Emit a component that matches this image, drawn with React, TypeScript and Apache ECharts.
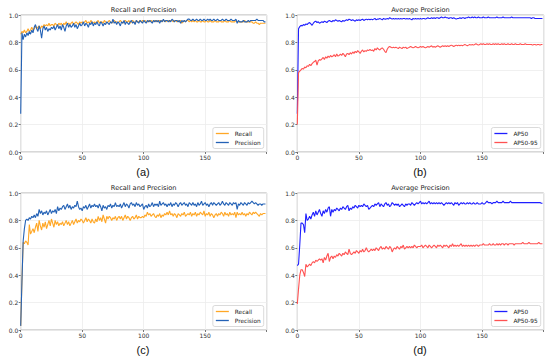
import React, { useEffect, useRef } from "react";
import * as echarts from "echarts";

const xTicks = [0, 50, 100, 150];
const yTicks = [0.0, 0.2, 0.4, 0.6, 0.8, 1.0];

const recallA = [
  0.86, 0.88, 0.87, 0.89, 0.87, 0.88, 0.90, 0.88, 0.89, 0.91, 0.89, 0.90, 0.92, 0.90, 0.91, 0.92, 0.90, 0.92, 0.91, 0.93,
  0.92, 0.93, 0.92, 0.94, 0.92, 0.93, 0.93, 0.92, 0.94, 0.93, 0.92, 0.94, 0.93, 0.94, 0.92, 0.94, 0.93, 0.95, 0.93, 0.94,
  0.93, 0.94, 0.95, 0.93, 0.94, 0.95, 0.94, 0.93, 0.95, 0.94, 0.95, 0.94, 0.95, 0.96, 0.94, 0.95, 0.94, 0.96, 0.95, 0.94,
  0.95, 0.94, 0.95, 0.96, 0.94, 0.95, 0.95, 0.94, 0.96, 0.95, 0.94, 0.95, 0.96, 0.95, 0.94, 0.95, 0.96, 0.95, 0.95, 0.94,
  0.95, 0.96, 0.95, 0.94, 0.95, 0.96, 0.95, 0.95, 0.96, 0.94, 0.95, 0.96, 0.95, 0.94, 0.96, 0.95, 0.95, 0.96, 0.95, 0.96,
  0.95, 0.96, 0.95, 0.95, 0.96, 0.95, 0.96, 0.95, 0.96, 0.96, 0.95, 0.96, 0.95, 0.96, 0.96, 0.95, 0.96, 0.96, 0.95, 0.96,
  0.96, 0.95, 0.96, 0.96, 0.95, 0.96, 0.96, 0.95, 0.96, 0.95, 0.96, 0.94, 0.95, 0.96, 0.95, 0.96, 0.96, 0.95, 0.96, 0.95,
  0.96, 0.95, 0.96, 0.95, 0.95, 0.96, 0.95, 0.95, 0.96, 0.95, 0.95, 0.96, 0.95, 0.95, 0.96, 0.95, 0.95, 0.95, 0.96, 0.95,
  0.95, 0.95, 0.96, 0.95, 0.95, 0.95, 0.96, 0.95, 0.95, 0.95, 0.96, 0.95, 0.95, 0.95, 0.95, 0.96, 0.95, 0.95, 0.95, 0.95,
  0.95, 0.95, 0.96, 0.95, 0.95, 0.95, 0.95, 0.95, 0.95, 0.94, 0.94, 0.95, 0.94, 0.94, 0.93, 0.94, 0.94, 0.94, 0.94, 0.94,
];
const precisionA = [
  0.28, 0.87, 0.82, 0.86, 0.84, 0.87, 0.85, 0.88, 0.86, 0.89, 0.87, 0.91, 0.93, 0.90, 0.88, 0.92, 0.89, 0.83, 0.90, 0.92,
  0.89, 0.91, 0.88, 0.90, 0.89, 0.91, 0.90, 0.92, 0.89, 0.91, 0.93, 0.90, 0.92, 0.89, 0.93, 0.91, 0.88, 0.92, 0.94, 0.91,
  0.93, 0.91, 0.92, 0.94, 0.91, 0.93, 0.90, 0.92, 0.94, 0.92, 0.93, 0.95, 0.92, 0.94, 0.93, 0.91, 0.94, 0.93, 0.95, 0.92,
  0.94, 0.93, 0.95, 0.93, 0.92, 0.95, 0.94, 0.92, 0.94, 0.93, 0.95, 0.94, 0.93, 0.95, 0.94, 0.97, 0.94, 0.95, 0.93, 0.95,
  0.94, 0.92, 0.95, 0.94, 0.96, 0.93, 0.95, 0.94, 0.93, 0.95, 0.96, 0.94, 0.95, 0.93, 0.96, 0.95, 0.94, 0.96, 0.95, 0.94,
  0.96, 0.95, 0.94, 0.96, 0.95, 0.96, 0.95, 0.94, 0.96, 0.95, 0.96, 0.95, 0.96, 0.94, 0.96, 0.95, 0.97, 0.95, 0.96, 0.96,
  0.95, 0.96, 0.95, 0.97, 0.96, 0.95, 0.96, 0.96, 0.95, 0.96, 0.94, 0.96, 0.95, 0.96, 0.95, 0.96, 0.97, 0.97, 0.96, 0.96,
  0.97, 0.96, 0.96, 0.97, 0.96, 0.96, 0.97, 0.96, 0.96, 0.97, 0.96, 0.96, 0.97, 0.96, 0.97, 0.96, 0.96, 0.97, 0.96, 0.96,
  0.97, 0.96, 0.96, 0.96, 0.97, 0.96, 0.96, 0.97, 0.96, 0.96, 0.96, 0.97, 0.96, 0.96, 0.96, 0.97, 0.94, 0.96, 0.95, 0.95,
  0.95, 0.96, 0.95, 0.95, 0.95, 0.96, 0.95, 0.96, 0.96, 0.96, 0.96, 0.96, 0.97, 0.96, 0.96, 0.96, 0.96, 0.96, 0.95, 0.95,
];
const ap50B = [
  0.28, 0.90, 0.915, 0.925, 0.92, 0.93, 0.925, 0.935, 0.93, 0.94, 0.945, 0.935, 0.925, 0.94, 0.95, 0.955, 0.945, 0.95, 0.94, 0.945,
  0.95, 0.945, 0.955, 0.95, 0.945, 0.955, 0.96, 0.955, 0.95, 0.96, 0.955, 0.965, 0.96, 0.955, 0.96, 0.955, 0.95, 0.96, 0.955, 0.96,
  0.965, 0.96, 0.97, 0.965, 0.96, 0.965, 0.96, 0.955, 0.965, 0.96, 0.965, 0.96, 0.965, 0.97, 0.96, 0.965, 0.97, 0.965, 0.97, 0.965,
  0.97, 0.965, 0.97, 0.975, 0.965, 0.97, 0.97, 0.975, 0.97, 0.965, 0.975, 0.97, 0.97, 0.975, 0.97, 0.98, 0.975, 0.97, 0.975, 0.97,
  0.975, 0.97, 0.975, 0.97, 0.975, 0.97, 0.975, 0.975, 0.97, 0.975, 0.97, 0.975, 0.97, 0.965, 0.975, 0.97, 0.975, 0.97, 0.975, 0.97,
  0.975, 0.97, 0.975, 0.975, 0.97, 0.975, 0.98, 0.975, 0.975, 0.98, 0.975, 0.98, 0.975, 0.98, 0.98, 0.975, 0.98, 0.985, 0.98, 0.98,
  0.985, 0.98, 0.98, 0.975, 0.98, 0.98, 0.975, 0.98, 0.975, 0.97, 0.975, 0.975, 0.98, 0.975, 0.98, 0.98, 0.975, 0.98, 0.98, 0.985,
  0.98, 0.98, 0.985, 0.98, 0.985, 0.98, 0.98, 0.985, 0.98, 0.98, 0.98, 0.985, 0.98, 0.98, 0.98, 0.985, 0.98, 0.98, 0.98, 0.98,
  0.98, 0.98, 0.985, 0.98, 0.98, 0.98, 0.98, 0.985, 0.98, 0.98, 0.98, 0.98, 0.98, 0.98, 0.985, 0.98, 0.98, 0.98, 0.98, 0.98,
  0.98, 0.98, 0.98, 0.98, 0.98, 0.98, 0.98, 0.98, 0.98, 0.98, 0.975, 0.98, 0.98, 0.975, 0.975, 0.975, 0.975, 0.975, 0.975, 0.975,
];
const ap5095B = [
  0.20, 0.58, 0.59, 0.60, 0.61, 0.605, 0.62, 0.615, 0.63, 0.625, 0.64, 0.63, 0.645, 0.655, 0.66, 0.67, 0.635, 0.665, 0.675, 0.67,
  0.68, 0.69, 0.675, 0.695, 0.685, 0.70, 0.69, 0.705, 0.695, 0.70, 0.71, 0.695, 0.715, 0.70, 0.705, 0.715, 0.705, 0.72, 0.71, 0.695,
  0.715, 0.72, 0.71, 0.725, 0.715, 0.73, 0.72, 0.735, 0.725, 0.74, 0.73, 0.72, 0.735, 0.745, 0.73, 0.74, 0.735, 0.745, 0.74, 0.75,
  0.74, 0.745, 0.735, 0.755, 0.745, 0.76, 0.75, 0.745, 0.755, 0.76, 0.75, 0.735, 0.725, 0.75, 0.765, 0.77, 0.765, 0.76, 0.765, 0.76,
  0.765, 0.76, 0.755, 0.765, 0.76, 0.755, 0.765, 0.76, 0.765, 0.755, 0.76, 0.765, 0.77, 0.765, 0.76, 0.765, 0.77, 0.765, 0.76, 0.765,
  0.77, 0.765, 0.77, 0.765, 0.76, 0.765, 0.77, 0.765, 0.77, 0.775, 0.765, 0.77, 0.765, 0.77, 0.775, 0.77, 0.765, 0.77, 0.775, 0.77,
  0.775, 0.77, 0.775, 0.77, 0.775, 0.78, 0.775, 0.77, 0.775, 0.78, 0.775, 0.78, 0.775, 0.78, 0.775, 0.78, 0.785, 0.78, 0.775, 0.78,
  0.785, 0.78, 0.785, 0.78, 0.785, 0.79, 0.785, 0.78, 0.785, 0.79, 0.785, 0.79, 0.785, 0.785, 0.79, 0.785, 0.79, 0.785, 0.785, 0.79,
  0.785, 0.79, 0.785, 0.79, 0.785, 0.785, 0.79, 0.785, 0.79, 0.785, 0.785, 0.79, 0.785, 0.785, 0.79, 0.785, 0.785, 0.79, 0.785, 0.785,
  0.785, 0.79, 0.785, 0.785, 0.785, 0.79, 0.785, 0.785, 0.785, 0.785, 0.785, 0.78, 0.785, 0.785, 0.78, 0.785, 0.785, 0.78, 0.785, 0.785,
];
const recallC = [
  0.03, 0.35, 0.64, 0.63, 0.65, 0.64, 0.62, 0.77, 0.70, 0.72, 0.74, 0.71, 0.75, 0.78, 0.72, 0.80, 0.76, 0.73, 0.78, 0.75,
  0.79, 0.74, 0.77, 0.80, 0.76, 0.81, 0.78, 0.75, 0.80, 0.77, 0.79, 0.76, 0.78, 0.77, 0.79, 0.76, 0.78, 0.80, 0.77, 0.79,
  0.76, 0.78, 0.80, 0.77, 0.79, 0.81, 0.78, 0.80, 0.79, 0.81, 0.80, 0.78, 0.80, 0.82, 0.79, 0.81, 0.80, 0.78, 0.81, 0.79,
  0.78, 0.81, 0.79, 0.83, 0.80, 0.82, 0.79, 0.84, 0.81, 0.78, 0.83, 0.81, 0.83, 0.82, 0.80, 0.82, 0.81, 0.83, 0.80, 0.82,
  0.83, 0.81, 0.83, 0.80, 0.82, 0.84, 0.81, 0.83, 0.82, 0.80, 0.82, 0.83, 0.81, 0.82, 0.84, 0.81, 0.83, 0.82, 0.82, 0.83,
  0.82, 0.84, 0.83, 0.86, 0.84, 0.85, 0.83, 0.84, 0.85, 0.83, 0.82, 0.84, 0.83, 0.85, 0.82, 0.84, 0.83, 0.85, 0.84, 0.86,
  0.84, 0.87, 0.84, 0.85, 0.83, 0.85, 0.84, 0.82, 0.85, 0.84, 0.83, 0.85, 0.84, 0.86, 0.83, 0.84, 0.85, 0.84, 0.86, 0.83,
  0.85, 0.84, 0.86, 0.83, 0.85, 0.84, 0.86, 0.85, 0.84, 0.87, 0.83, 0.85, 0.84, 0.86, 0.83, 0.85, 0.84, 0.82, 0.84, 0.85,
  0.83, 0.85, 0.84, 0.86, 0.85, 0.83, 0.86, 0.84, 0.85, 0.83, 0.86, 0.84, 0.85, 0.84, 0.86, 0.82, 0.86, 0.84, 0.85, 0.84,
  0.86, 0.84, 0.85, 0.83, 0.85, 0.84, 0.86, 0.85, 0.84, 0.86, 0.85, 0.86, 0.85, 0.84, 0.83, 0.85, 0.84, 0.85, 0.85, 0.85,
];
const precisionC = [
  0.03, 0.35, 0.65, 0.74, 0.80, 0.81, 0.80, 0.82, 0.81, 0.83, 0.82, 0.84, 0.82, 0.85, 0.83, 0.88, 0.85, 0.87, 0.84, 0.86,
  0.85, 0.87, 0.84, 0.86, 0.88, 0.85, 0.87, 0.86, 0.88, 0.85, 0.90, 0.87, 0.89, 0.88, 0.90, 0.91, 0.88, 0.90, 0.92, 0.89,
  0.91, 0.88, 0.90, 0.89, 0.91, 0.90, 0.94, 0.90, 0.88, 0.89, 0.87, 0.90, 0.89, 0.91, 0.88, 0.90, 0.92, 0.89, 0.91, 0.90,
  0.92, 0.90, 0.91, 0.89, 0.92, 0.90, 0.87, 0.91, 0.89, 0.90, 0.88, 0.91, 0.90, 0.92, 0.89, 0.91, 0.90, 0.93, 0.90, 0.91,
  0.90, 0.92, 0.89, 0.91, 0.93, 0.90, 0.92, 0.91, 0.89, 0.92, 0.93, 0.91, 0.92, 0.90, 0.93, 0.91, 0.92, 0.90, 0.91, 0.92,
  0.88, 0.90, 0.91, 0.89, 0.92, 0.90, 0.91, 0.93, 0.90, 0.92, 0.91, 0.92, 0.90, 0.94, 0.91, 0.92, 0.93, 0.91, 0.92, 0.90,
  0.92, 0.91, 0.93, 0.90, 0.92, 0.91, 0.93, 0.92, 0.90, 0.92, 0.93, 0.91, 0.92, 0.93, 0.91, 0.92, 0.90, 0.93, 0.92, 0.91,
  0.93, 0.91, 0.92, 0.90, 0.93, 0.91, 0.92, 0.94, 0.91, 0.92, 0.93, 0.91, 0.92, 0.90, 0.92, 0.93, 0.91, 0.93, 0.92, 0.91,
  0.92, 0.93, 0.91, 0.92, 0.94, 0.92, 0.91, 0.93, 0.92, 0.91, 0.93, 0.92, 0.91, 0.93, 0.92, 0.93, 0.88, 0.92, 0.91, 0.93,
  0.92, 0.91, 0.93, 0.92, 0.91, 0.93, 0.92, 0.93, 0.94, 0.93, 0.92, 0.93, 0.92, 0.91, 0.92, 0.92, 0.91, 0.92, 0.92, 0.92,
];
const ap50D = [
  0.47, 0.48, 0.62, 0.78, 0.78, 0.77, 0.71, 0.85, 0.80, 0.81, 0.83, 0.81, 0.84, 0.86, 0.83, 0.87, 0.84, 0.86, 0.88, 0.85,
  0.83, 0.87, 0.85, 0.88, 0.86, 0.89, 0.90, 0.83, 0.88, 0.86, 0.88, 0.87, 0.89, 0.88, 0.87, 0.89, 0.88, 0.90, 0.89, 0.88,
  0.90, 0.91, 0.87, 0.89, 0.88, 0.90, 0.89, 0.91, 0.90, 0.89, 0.91, 0.90, 0.91, 0.90, 0.92, 0.91, 0.90, 0.91, 0.88, 0.89,
  0.90, 0.91, 0.90, 0.92, 0.91, 0.92, 0.93, 0.90, 0.92, 0.91, 0.90, 0.92, 0.93, 0.91, 0.92, 0.90, 0.91, 0.93, 0.92, 0.91,
  0.92, 0.91, 0.92, 0.90, 0.91, 0.92, 0.91, 0.90, 0.92, 0.91, 0.92, 0.92, 0.91, 0.93, 0.92, 0.91, 0.92, 0.93, 0.92, 0.93,
  0.94, 0.92, 0.93, 0.92, 0.93, 0.92, 0.93, 0.94, 0.92, 0.93, 0.92, 0.93, 0.92, 0.93, 0.92, 0.93, 0.92, 0.93, 0.92, 0.91,
  0.92, 0.93, 0.92, 0.93, 0.92, 0.93, 0.92, 0.91, 0.93, 0.92, 0.93, 0.91, 0.92, 0.93, 0.92, 0.93, 0.92, 0.92, 0.93, 0.92,
  0.93, 0.92, 0.92, 0.93, 0.92, 0.92, 0.93, 0.92, 0.92, 0.92, 0.93, 0.92, 0.92, 0.93, 0.94, 0.93, 0.93, 0.93, 0.92, 0.93,
  0.93, 0.93, 0.94, 0.93, 0.93, 0.93, 0.93, 0.94, 0.93, 0.93, 0.93, 0.93, 0.93, 0.94, 0.93, 0.93, 0.93, 0.93, 0.93, 0.93,
  0.93, 0.93, 0.93, 0.93, 0.93, 0.93, 0.93, 0.93, 0.93, 0.93, 0.93, 0.93, 0.93, 0.93, 0.93, 0.93, 0.93, 0.93, 0.925, 0.925,
];
const ap5095D = [
  0.19, 0.30, 0.40, 0.44, 0.44, 0.42, 0.39, 0.48, 0.46, 0.47, 0.48, 0.47, 0.49, 0.50, 0.49, 0.51, 0.50, 0.51, 0.52, 0.51,
  0.52, 0.49, 0.53, 0.51, 0.54, 0.56, 0.50, 0.53, 0.54, 0.52, 0.54, 0.53, 0.55, 0.54, 0.56, 0.55, 0.54, 0.56, 0.55, 0.57,
  0.56, 0.55, 0.59, 0.56, 0.55, 0.56, 0.57, 0.56, 0.58, 0.57, 0.56, 0.58, 0.57, 0.59, 0.57, 0.58, 0.60, 0.58, 0.57, 0.58,
  0.59, 0.58, 0.59, 0.58, 0.60, 0.59, 0.58, 0.60, 0.61, 0.59, 0.60, 0.59, 0.61, 0.60, 0.59, 0.61, 0.60, 0.57, 0.59, 0.60,
  0.59, 0.61, 0.60, 0.59, 0.61, 0.60, 0.62, 0.59, 0.60, 0.61, 0.60, 0.61, 0.60, 0.61, 0.60, 0.62, 0.61, 0.60, 0.61, 0.61,
  0.61, 0.62, 0.60, 0.61, 0.62, 0.61, 0.60, 0.62, 0.61, 0.60, 0.61, 0.62, 0.61, 0.60, 0.62, 0.61, 0.62, 0.61, 0.60, 0.62,
  0.61, 0.62, 0.61, 0.60, 0.62, 0.61, 0.63, 0.61, 0.62, 0.61, 0.62, 0.61, 0.62, 0.63, 0.61, 0.62, 0.61, 0.62, 0.61, 0.62,
  0.61, 0.62, 0.61, 0.62, 0.61, 0.62, 0.62, 0.61, 0.62, 0.62, 0.62, 0.63, 0.62, 0.62, 0.62, 0.62, 0.63, 0.62, 0.62, 0.63,
  0.62, 0.62, 0.63, 0.62, 0.63, 0.62, 0.63, 0.63, 0.62, 0.63, 0.63, 0.62, 0.63, 0.63, 0.63, 0.63, 0.62, 0.63, 0.63, 0.63,
  0.63, 0.63, 0.63, 0.64, 0.63, 0.63, 0.63, 0.63, 0.64, 0.63, 0.63, 0.63, 0.63, 0.63, 0.63, 0.63, 0.64, 0.63, 0.63, 0.63,
];

const panelTitles = ["Recall and Precision", "Average Precision", "Recall and Precision", "Average Precision"];
const panelLabels = ["(a)", "(b)", "(c)", "(d)"];
const panelSeries = [
  [{ name: "Recall", data: recallA, color: "#FFA726" }, { name: "Precision", data: precisionA, color: "#2462B6" }],
  [{ name: "AP50", data: ap50B, color: "#1f1fff" }, { name: "AP50-95", data: ap5095B, color: "#ff5252" }],
  [{ name: "Recall", data: recallC, color: "#FFA726" }, { name: "Precision", data: precisionC, color: "#2462B6" }],
  [{ name: "AP50", data: ap50D, color: "#1f1fff" }, { name: "AP50-95", data: ap5095D, color: "#ff5252" }],
];

const FONT = "DejaVu Sans";

export default function App() {
  const ref = useRef<HTMLDivElement>(null);
  useEffect(() => {
    if (!ref.current) return;
    const chart = echarts.init(ref.current, undefined, { renderer: "svg" });
    const boxes = [
      { left: 20.7, top: 15, width: 246, height: 137 },
      { left: 297.3, top: 15, width: 246.4, height: 137 },
      { left: 20.7, top: 193, width: 246, height: 137 },
      { left: 297.3, top: 193, width: 246.4, height: 137 },
    ];
    const labelPos = [
      { x: 143, y: 172 },
      { x: 420, y: 172 },
      { x: 143, y: 349.5 },
      { x: 420, y: 349.5 },
    ];
    const grids = boxes.map((b) => ({
      left: b.left,
      top: b.top,
      width: b.width,
      height: b.height,
      show: true,
      borderColor: "#b0b0b0",
      borderWidth: 1,
      backgroundColor: "#fff",
      containLabel: false,
    }));
    const xAxes = boxes.map((_, i) => ({
      type: "value",
      gridIndex: i,
      min: 0,
      max: 200,
      interval: 50,
      axisLine: { show: false },
      axisTick: { show: true, length: 2, lineStyle: { color: "#555", width: 0.8 } },
      axisLabel: {
        fontSize: 6,
        color: "#333",
        margin: 2.5,
        fontFamily: FONT,
        formatter: (v: number) => (xTicks.includes(v) ? String(v) : ""),
      },
      splitLine: { show: true, lineStyle: { color: "#ececec", width: 0.8 } },
    }));
    const yAxes = boxes.map((_, i) => ({
      type: "value",
      gridIndex: i,
      min: 0,
      max: 1,
      interval: 0.2,
      axisLine: { show: false },
      axisTick: { show: true, length: 2, lineStyle: { color: "#555", width: 0.8 } },
      axisLabel: {
        fontSize: 6,
        color: "#333",
        margin: 2.5,
        fontFamily: FONT,
        formatter: (v: number) => {
          const t = yTicks.find((y) => Math.abs(y - v) < 1e-6);
          return t === undefined ? "" : t.toFixed(1);
        },
      },
      splitLine: { show: true, lineStyle: { color: "#ececec", width: 0.8 } },
    }));
    const series: any[] = [];
    panelSeries.forEach((ps, i) => {
      ps.forEach((s) => {
        series.push({
          type: "line",
          name: s.name,
          xAxisIndex: i,
          yAxisIndex: i,
          showSymbol: false,
          symbol: "none",
          data: s.data.map((v, k) => [k, v]),
          lineStyle: { color: s.color, width: 1.1 },
          itemStyle: { color: s.color },
          emphasis: { disabled: true },
        });
      });
    });
    const legends = boxes.map((b, i) => ({
      data: panelSeries[i].map((s) => s.name),
      orient: "vertical",
      right: 550 - (b.left + b.width) + 3,
      bottom: 357 - (b.top + b.height) + 3.5,
      icon: "rect",
      itemWidth: 13,
      itemHeight: 1.3,
      itemGap: 3,
      padding: [3, 3, 3, 3],
      backgroundColor: "#fff",
      borderColor: "#d0d0d0",
      borderWidth: 0.8,
      borderRadius: 2,
      selectedMode: false,
      textStyle: { fontSize: 5.8, color: "#222", fontFamily: FONT, padding: [0, 0, 0, 1] },
    }));
    const graphics: any[] = [];
    boxes.forEach((b, i) => {
      graphics.push({
        type: "text",
        x: b.left + b.width / 2,
        y: b.top - 5,
        style: {
          text: panelTitles[i],
          fontSize: 6.6,
          fontFamily: FONT,
          fill: "#222",
          align: "center",
          verticalAlign: "middle",
          textAlign: "center",
          textVerticalAlign: "middle",
        },
      });
      graphics.push({
        type: "text",
        x: labelPos[i].x,
        y: labelPos[i].y,
        style: {
          text: panelLabels[i],
          fontSize: 11,
          fontFamily: "Liberation Sans",
          fill: "#111",
          align: "center",
          verticalAlign: "middle",
          textAlign: "center",
          textVerticalAlign: "middle",
        },
      });
    });
    chart.setOption({
      animation: false,
      backgroundColor: "#fff",
      grid: grids,
      xAxis: xAxes,
      yAxis: yAxes,
      legend: legends,
      series,
      graphic: graphics,
    });
    return () => chart.dispose();
  }, []);
  return (
    <div
      ref={ref}
      style={{ position: "absolute", left: 0, top: 0, width: 550, height: 357 }}
    />
  );
}
